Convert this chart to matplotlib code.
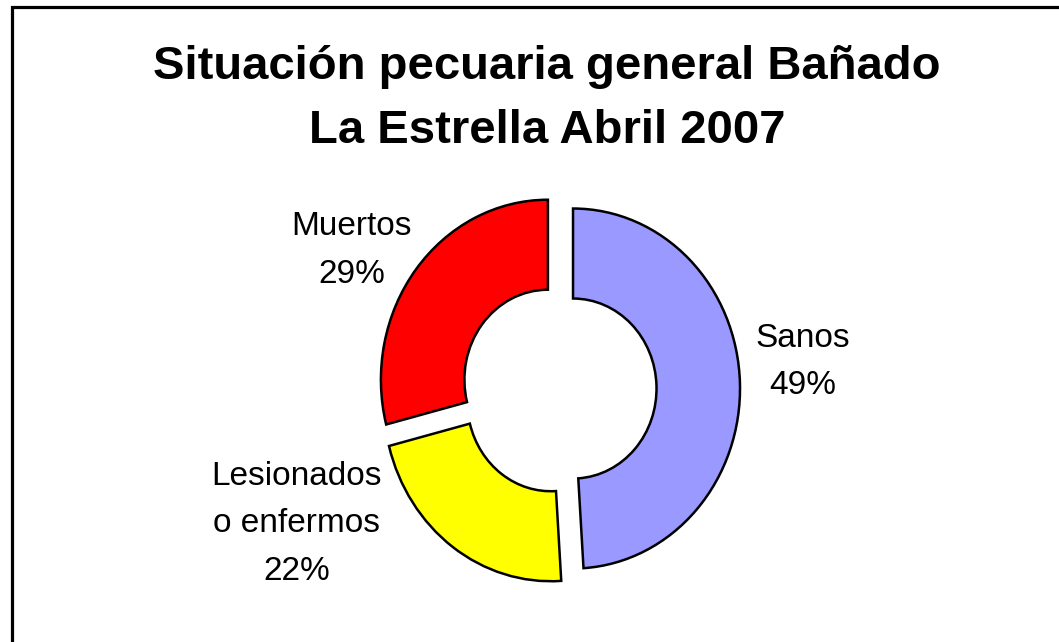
import matplotlib.pyplot as plt
from matplotlib.patches import Rectangle

plt.rcParams['font.family'] = ['Liberation Sans', 'DejaVu Sans']

categories = ['Sanos', 'Lesionados\no enfermos', 'Muertos']
values = [49, 22, 29]
colors = ['#9999FF', '#FFFF00', '#FF0000']
title = 'Situación pecuaria general Bañado\nLa Estrella Abril 2007'

# label spots in data units (center of the pie is 0,0)
label_pos = [(1.46, 0.15), (-1.57, -0.75), (-1.24, 0.77)]

W, H = 1059, 642
fig = plt.figure(figsize=(W / 100, H / 100), dpi=100)

# outer frame, cut off at right and bottom like the original
fig.add_artist(Rectangle((12 / W, -0.2), 1.2, 1 - 7 / H + 0.2,
                         transform=fig.transFigure, fill=False,
                         edgecolor='black', linewidth=2.3))

fig.text(547 / W, 1 - 45 / H, title, ha='center', va='top',
         fontsize=34, fontweight='bold', linespacing=1.58)

# axes sized so the ring is a bit taller than wide, as in the picture
ax = fig.add_axes([(559 - 334) / W, 19 / H, 668 / W, 468 / H])
wedges, _ = ax.pie(values, colors=colors, startangle=90, counterclock=False,
                   explode=[0.084] * len(values),
                   wedgeprops=dict(width=0.5, edgecolor='black', linewidth=1.8))
ax.set_aspect('auto')
ax.set_xlim(-2, 2)
ax.set_ylim(-1.3, 1.3)
ax.axis('off')

total = sum(values)
for name, v, (lx, ly) in zip(categories, values, label_pos):
    ax.text(lx, ly, '%s\n%d%%' % (name, round(v * 100 / total)),
            ha='center', va='center', fontsize=24, linespacing=1.7)

fig.savefig('out.png', dpi=100)
